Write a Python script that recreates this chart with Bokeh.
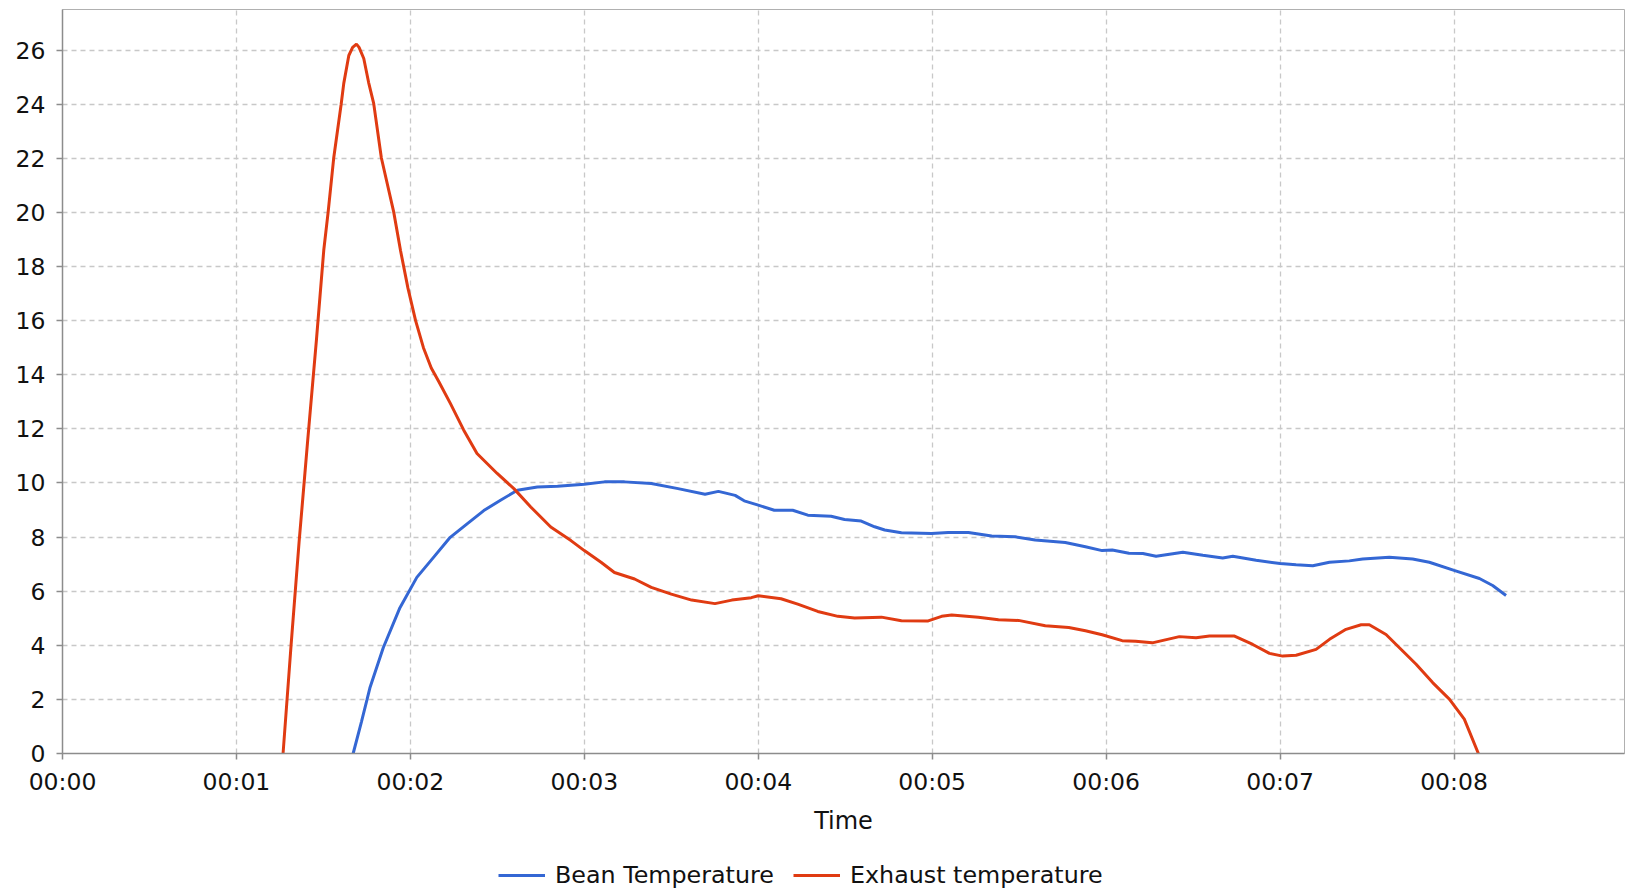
from bokeh.plotting import figure
from bokeh.layouts import column
from bokeh.models import Range1d, FixedTicker, Legend, LegendItem
from bokeh.embed import file_html
from bokeh.resources import INLINE

# ---- data (time in minutes) ----
bean_t = [1.671, 1.719, 1.751, 1.767, 1.844, 1.94, 2.037, 2.133, 2.229, 2.326, 2.422, 2.518,
          2.615, 2.730, 2.846, 3.0, 3.116, 3.231, 3.385, 3.539, 3.694, 3.771, 3.867, 3.919,
          4.0, 4.092, 4.198, 4.285, 4.419, 4.496, 4.592, 4.669, 4.727, 4.823, 4.996, 5.092,
          5.208, 5.342, 5.477, 5.592, 5.765, 5.881, 5.977, 6.035, 6.131, 6.211, 6.287, 6.441,
          6.556, 6.670, 6.728, 6.862, 7.0, 7.092, 7.188, 7.284, 7.398, 7.475, 7.628, 7.762,
          7.858, 8.0, 8.146, 8.222, 8.299]
bean_v = [0, 1.18, 2.0, 2.42, 3.91, 5.39, 6.51, 7.25, 7.99, 8.49, 8.98, 9.36,
          9.73, 9.85, 9.88, 9.95, 10.04, 10.04, 9.98, 9.79, 9.58, 9.69, 9.54, 9.34,
          9.18, 8.99, 8.99, 8.81, 8.77, 8.65, 8.59, 8.38, 8.26, 8.16, 8.13, 8.17,
          8.17, 8.04, 8.01, 7.89, 7.80, 7.64, 7.50, 7.52, 7.40, 7.39, 7.29, 7.44,
          7.33, 7.23, 7.29, 7.14, 7.02, 6.98, 6.94, 7.07, 7.12, 7.19, 7.25, 7.19,
          7.07, 6.77, 6.47, 6.21, 5.84]

exhaust_t = [1.268, 1.314, 1.36, 1.41, 1.46, 1.502, 1.527, 1.559, 1.602, 1.617, 1.646, 1.668,
             1.69, 1.705, 1.732, 1.76, 1.789, 1.833, 1.904, 1.943, 1.986, 2.03, 2.075, 2.12,
             2.163, 2.229, 2.306, 2.383, 2.499, 2.595, 2.692, 2.807, 2.923, 3.0, 3.096, 3.173,
             3.289, 3.385, 3.50, 3.617, 3.751, 3.848, 3.96, 4.0, 4.131, 4.227, 4.342, 4.458,
             4.554, 4.708, 4.823, 4.977, 5.054, 5.112, 5.265, 5.381, 5.496, 5.65, 5.785, 5.881,
             5.977, 6.092, 6.169, 6.265, 6.421, 6.517, 6.594, 6.738, 6.843, 6.939, 7.015, 7.092,
             7.207, 7.284, 7.379, 7.466, 7.513, 7.609, 7.686, 7.782, 7.877, 7.973, 8.059, 8.14]
exhaust_v = [0, 4, 7.8, 11.6, 15.3, 18.6, 20, 22, 24, 24.77, 25.8, 26.1,
             26.22, 26.1, 25.69, 24.8, 24.03, 22.02, 20.02, 18.6, 17.2, 16.0, 15.0, 14.25,
             13.75, 12.95, 11.96, 11.09, 10.35, 9.79, 9.11, 8.37, 7.87, 7.50, 7.07, 6.69,
             6.45, 6.14, 5.89, 5.67, 5.54, 5.67, 5.76, 5.83, 5.72, 5.52, 5.25, 5.07,
             5.01, 5.04, 4.91, 4.90, 5.07, 5.12, 5.04, 4.94, 4.92, 4.72, 4.66, 4.54,
             4.39, 4.17, 4.15, 4.09, 4.32, 4.28, 4.34, 4.34, 4.03, 3.70, 3.60, 3.63,
             3.85, 4.22, 4.59, 4.76, 4.76, 4.40, 3.91, 3.30, 2.62, 2.01, 1.27, 0]

x_ticks = [0, 1, 2, 3, 4, 5, 6, 7, 8]
x_tick_labels = ["00:00", "00:01", "00:02", "00:03", "00:04", "00:05", "00:06", "00:07", "00:08"]
y_ticks = list(range(0, 27, 2))

series_names = ["Bean Temperature", "Exhaust temperature"]
series_colors = ["#3467d4", "#e03b12"]
x_title = "Time"

FONT = "DejaVu Sans"
LINE_W = 3

# ---------------- main chart ----------------
p = figure(width=1642, height=840, output_backend="svg", toolbar_location=None,
           x_range=Range1d(0, 8.98), y_range=Range1d(0, 27.5),
           min_border_left=62, min_border_top=9, min_border_right=18, min_border_bottom=87)

p.line(bean_t, bean_v, line_color=series_colors[0], line_width=LINE_W)
p.line(exhaust_t, exhaust_v, line_color=series_colors[1], line_width=LINE_W)

p.outline_line_color = "#b0b0b0"
p.outline_line_width = 1

for ax in (p.xaxis[0], p.yaxis[0]):
    ax.axis_line_color = "#8c8c8c"
    ax.axis_line_width = 1.5
    ax.major_tick_line_color = "#8c8c8c"
    ax.major_tick_line_width = 1.5
    ax.major_tick_out = 6
    ax.major_tick_in = 0
    ax.minor_tick_out = 0
    ax.minor_tick_in = 0
    ax.major_label_text_font = FONT
    ax.major_label_text_font_size = "23.5px"
    ax.major_label_text_color = "#111111"

p.xaxis[0].ticker = FixedTicker(ticks=x_ticks)
p.xaxis[0].major_label_overrides = {t: s for t, s in zip(x_ticks, x_tick_labels)}
p.xaxis[0].major_label_standoff = 8
p.xaxis[0].axis_label = x_title
p.xaxis[0].axis_label_text_font = FONT
p.xaxis[0].axis_label_text_font_size = "24px"
p.xaxis[0].axis_label_text_font_style = "normal"
p.xaxis[0].axis_label_text_color = "#111111"
p.xaxis[0].axis_label_standoff = 8

p.yaxis[0].ticker = FixedTicker(ticks=y_ticks)
p.yaxis[0].major_label_standoff = 11

for g in (p.xgrid[0], p.ygrid[0]):
    g.grid_line_color = "#c8c8c8"
    g.grid_line_width = 1.3
    g.grid_line_dash = "5 4"
p.xgrid[0].ticker = FixedTicker(ticks=x_ticks)
p.ygrid[0].ticker = FixedTicker(ticks=y_ticks)

# ---------------- legend strip below the chart ----------------
# the same series are drawn here outside the visible range, only to feed the legend swatches
lg = figure(width=1642, height=54, output_backend="svg", toolbar_location=None,
            x_range=Range1d(0, 1), y_range=Range1d(-20, -19),
            x_axis_type=None, y_axis_type=None, min_border=0)
lg.outline_line_color = None
k1 = lg.line(bean_t, bean_v, line_color=series_colors[0], line_width=LINE_W)
k2 = lg.line(exhaust_t, exhaust_v, line_color=series_colors[1], line_width=LINE_W)

legend = Legend(items=[LegendItem(label=series_names[0], renderers=[k1]),
                       LegendItem(label=series_names[1], renderers=[k2])],
                orientation="horizontal", location=(436, 5),
                label_text_font=FONT, label_text_font_size="23.8px",
                label_text_color="#111111",
                glyph_width=47, glyph_height=20, label_standoff=10, spacing=19,
                padding=0, margin=0, border_line_color=None, background_fill_alpha=0)
lg.add_layout(legend, "center")

layout = column(p, lg, spacing=0)
open("out.html", "w").write(file_html(layout, INLINE))
